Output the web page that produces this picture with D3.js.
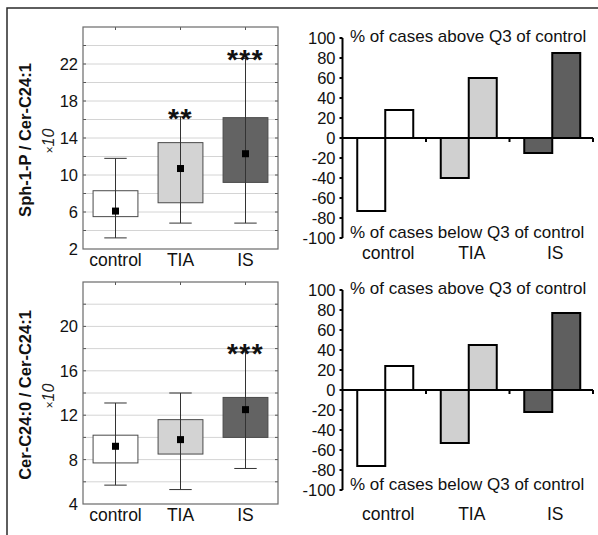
<!DOCTYPE html>
<html><head><meta charset="utf-8">
<script src="https://cdn.jsdelivr.net/npm/d3@7"></script>
<style>body{margin:0;background:#fff}svg{font-family:"Liberation Sans",Arial,sans-serif;display:block}</style>
</head><body><svg id="c" width="598" height="535"></svg>
<script>
// ---------- data ----------
const categories = ["control", "TIA", "IS"];

const sphWhiskerLow  = [3.2, 4.8, 4.8];
const sphQ1          = [5.5, 7.0, 9.2];
const sphMean        = [6.1, 10.7, 12.3];
const sphQ3          = [8.3, 13.5, 16.2];
const sphWhiskerHigh = [11.8, 16.3, 22.6];
const sphStars       = ["", "**", "***"];
const sphTicks       = [2, 6, 10, 14, 18, 22];

const cerWhiskerLow  = [5.7, 5.3, 7.2];
const cerQ1          = [7.7, 8.5, 10.0];
const cerMean        = [9.2, 9.8, 12.5];
const cerQ3          = [10.2, 11.6, 13.6];
const cerWhiskerHigh = [13.1, 14.0, 17.7];
const cerStars       = ["", "", "***"];
const cerTicks       = [4, 8, 12, 16, 20];

const sphBelow = [-73, -40, -15];
const sphAbove = [28, 60, 85];
const cerBelow = [-76, -53, -22];
const cerAbove = [24, 45, 77];
const barTicks = [-100, -80, -60, -40, -20, 0, 20, 40, 60, 80, 100];

const aboveLabel = "% of cases above Q3 of control";
const belowLabel = "% of cases below Q3 of control";

// ---------- styles ----------
const boxFill = {control: "#ffffff", TIA: "#d3d3d3", IS: "#636363"};
const barFill = {control: "#ffffff", TIA: "#d0d0d0", IS: "#5f5f5f"};

const svg = d3.select("#c");

// frame
svg.append("path").attr("d", "M7,535V8H598").attr("fill", "none")
  .attr("stroke", "#2a2a2a").attr("stroke-width", 1.5);

function boxPlot(top, bottom, domain, ticks, lo, q1, mean, q3, hi, stars, title) {
  const left = 83, right = 278;
  const g = svg.append("g");
  const y = d3.scaleLinear().domain(domain).range([bottom, top]);
  const x = d3.scalePoint().domain(categories).range([left, right]).padding(0.5);
  const bw = x.step() * 0.69;
  const grid = d3.range(domain[0] + 2, domain[1], 2);
  g.selectAll(".gl").data(grid).join("line")
    .attr("x1", left).attr("x2", right).attr("y1", d => y(d)).attr("y2", d => y(d))
    .attr("stroke", "#d4d4d4").attr("stroke-width", 1);
  g.selectAll(".tl").data(grid).join("line")
    .attr("x1", left).attr("x2", left + 3).attr("y1", d => y(d)).attr("y2", d => y(d))
    .attr("stroke", "#555");
  g.selectAll(".tr").data(grid).join("line")
    .attr("x1", right - 3).attr("x2", right).attr("y1", d => y(d)).attr("y2", d => y(d))
    .attr("stroke", "#555");
  g.selectAll(".tt").data(categories).join("line")
    .attr("x1", d => x(d)).attr("x2", d => x(d)).attr("y1", top).attr("y2", top + 3).attr("stroke", "#555");
  g.append("rect").attr("x", left).attr("y", top).attr("width", right - left).attr("height", bottom - top)
    .attr("fill", "none").attr("stroke", "#6a6a6a").attr("stroke-width", 1.2);
  categories.forEach((c, i) => {
    const cx = x(c);
    g.append("rect").attr("x", cx - bw / 2).attr("y", y(q3[i])).attr("width", bw)
      .attr("height", y(q1[i]) - y(q3[i])).attr("fill", boxFill[c])
      .attr("stroke", "#4a4a4a").attr("stroke-width", 1);
    g.append("line").attr("x1", cx).attr("x2", cx).attr("y1", y(lo[i])).attr("y2", y(hi[i]))
      .attr("stroke", "#333").attr("stroke-width", 1);
    [lo[i], hi[i]].forEach(v => {
      g.append("line").attr("x1", cx - bw / 4).attr("x2", cx + bw / 4).attr("y1", y(v)).attr("y2", y(v))
        .attr("stroke", "#333").attr("stroke-width", 1);
    });
    g.append("rect").attr("x", cx - 3.5).attr("y", y(mean[i]) - 3.5).attr("width", 7).attr("height", 7)
      .attr("fill", "#000");
    if (stars[i]) {
      g.append("text").attr("x", cx).attr("y", y(hi[i]) + 11).attr("text-anchor", "middle")
        .attr("font-size", 28).attr("font-weight", "bold").attr("letter-spacing", 1.5)
        .attr("fill", "#111").text(stars[i]);
    }
  });
  g.selectAll(".yl").data(ticks).join("text")
    .attr("x", left - 5).attr("y", d => y(d)).attr("dy", "0.36em").attr("text-anchor", "end")
    .attr("font-size", 16.5).attr("fill", "#111").text(d => d);
  g.selectAll(".xl").data(categories).join("text")
    .attr("x", d => x(d)).attr("y", bottom + 17).attr("text-anchor", "middle")
    .attr("font-size", 17.5).attr("fill", "#111").text(d => d);
  const mid = (top + bottom) / 2;
  g.append("text").attr("transform", `translate(31,${mid + 2}) rotate(-90)`).attr("text-anchor", "middle")
    .attr("font-size", 16.5).attr("font-weight", "bold").attr("fill", "#111").text(title);
  const t = g.append("text").attr("transform", `translate(54,${mid + 3}) rotate(-90)`).attr("text-anchor", "middle")
    .attr("font-style", "italic").attr("font-size", 16).attr("fill", "#222");
  t.append("tspan").attr("font-size", 12).text("×");
  t.append("tspan").text("10");
}

function barPlot(zeroTop, below, above, labelY) {
  const left = 342.5, right = 593;
  const g = svg.append("g");
  const y = d3.scaleLinear().domain([-100, 100]).range([zeroTop + 200, zeroTop]);
  const x = d3.scaleBand().domain(categories).range([left, right]);
  const w = 28;
  categories.forEach((c, i) => {
    const cx = x(c) + x.bandwidth() / 2 + 1;
    g.append("rect").attr("x", cx - w).attr("y", y(0)).attr("width", w).attr("height", y(below[i]) - y(0))
      .attr("fill", barFill[c]).attr("stroke", "#000").attr("stroke-width", 2);
    g.append("rect").attr("x", cx).attr("y", y(above[i])).attr("width", w).attr("height", y(0) - y(above[i]))
      .attr("fill", barFill[c]).attr("stroke", "#000").attr("stroke-width", 2);
  });
  g.append("line").attr("x1", left).attr("x2", right).attr("y1", y(0)).attr("y2", y(0))
    .attr("stroke", "#000").attr("stroke-width", 2);
  g.selectAll(".xt").data(categories).join("line")
    .attr("x1", d => x(d) + x.bandwidth()).attr("x2", d => x(d) + x.bandwidth())
    .attr("y1", y(0)).attr("y2", y(0) + 4).attr("stroke", "#000").attr("stroke-width", 2);
  g.append("line").attr("x1", left).attr("x2", left).attr("y1", y(-100)).attr("y2", y(100))
    .attr("stroke", "#000").attr("stroke-width", 2);
  g.selectAll(".yt").data(barTicks).join("line")
    .attr("x1", left - 3).attr("x2", left).attr("y1", d => y(d)).attr("y2", d => y(d))
    .attr("stroke", "#000").attr("stroke-width", 2);
  g.selectAll(".yl").data(barTicks).join("text")
    .attr("x", left - 7).attr("y", d => y(d)).attr("dy", "0.36em").attr("text-anchor", "end")
    .attr("font-size", 16.5).attr("fill", "#111").text(d => d);
  g.append("text").attr("x", 350).attr("y", y(100) - 2).attr("dy", "0.36em")
    .attr("font-size", 17).attr("fill", "#111").text(aboveLabel);
  g.append("text").attr("x", 350).attr("y", y(-100) - 6).attr("dy", "0.36em")
    .attr("font-size", 17).attr("fill", "#111").text(belowLabel);
  g.selectAll(".xl").data(categories).join("text")
    .attr("x", d => x(d) + x.bandwidth() / 2 + 4).attr("y", labelY).attr("text-anchor", "middle")
    .attr("font-size", 17.5).attr("fill", "#111").text(d => d);
}

boxPlot(27, 249, [2, 26], sphTicks, sphWhiskerLow, sphQ1, sphMean, sphQ3, sphWhiskerHigh, sphStars, "Sph-1-P / Cer-C24:1");
boxPlot(282, 504, [4, 24], cerTicks, cerWhiskerLow, cerQ1, cerMean, cerQ3, cerWhiskerHigh, cerStars, "Cer-C24:0 / Cer-C24:1");
barPlot(38, sphBelow, sphAbove, 259);
barPlot(290, cerBelow, cerAbove, 520);
</script></body></html>
